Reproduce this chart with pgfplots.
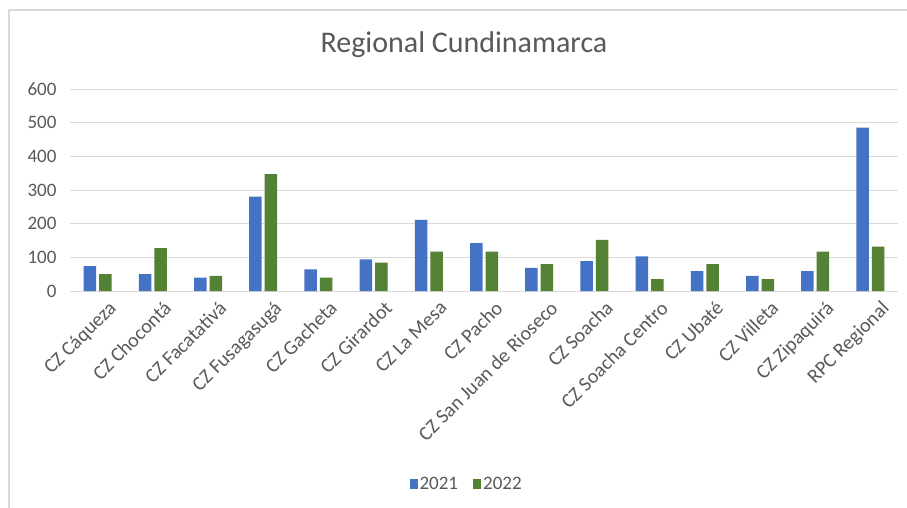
\documentclass[border=0pt]{standalone}
\usepackage{fontspec}
\setmainfont{Carlito}
\usepackage{pgfplots}
\pgfplotsset{compat=1.18}
\definecolor{cblue}{HTML}{4472C4}
\definecolor{cgreen}{HTML}{548235}
\definecolor{ctext}{HTML}{595959}
\definecolor{cgrid}{HTML}{D9D9D9}
\begin{document}
\begin{tikzpicture}[x=1pt,y=1pt]
\useasboundingbox (0,0) rectangle (907,-508);
\fill[white] (0,0) rectangle (907,-508);
\draw[cgrid, line width=1.2pt] (9,-508) -- (9,-10) -- (907,-10);
\node[text=ctext, font=\fontsize{30}{36}\selectfont] at (464,-45) {Regional Cundinamarca};
\begin{axis}[
  at={(70pt,-291pt)}, anchor=south west,
  scale only axis, width=828pt, height=202pt,
  ybar=3pt, bar width=12.5pt,
  xmin=-0.5, xmax=14.5, ymin=0, ymax=600,
  xtick={0,...,14},
  xticklabels={CZ Cáqueza, CZ Chocontá, CZ Facatativá, CZ Fusagasugá, CZ Gacheta, CZ Girardot, CZ La Mesa, CZ Pacho, CZ San Juan de Rioseco, CZ Soacha, CZ Soacha Centro, CZ Ubaté, CZ Villeta, CZ Zipaquirá, RPC Regional},
  ytick={0,100,...,600},
  ymajorgrids, grid style={cgrid, line width=0.8pt},
  axis line style={draw=none},
  major tick length=0pt,
  tick label style={text=ctext, font=\fontsize{19}{23}\selectfont},
  /pgf/number format/assume math mode=true,
  yticklabel style={anchor=east, xshift=-10pt},
  xticklabel style={rotate=45, anchor=north east, inner sep=1pt, xshift=2pt, yshift=-12pt, font=\fontsize{20}{24}\selectfont},
  legend style={at={(0.479,-0.955)}, anchor=center, draw=none, fill=none, legend columns=2,
    font=\fontsize{19}{23}\selectfont, text=ctext,
    /tikz/every even column/.append style={column sep=13pt}},
  legend image code/.code={\fill[#1] (0pt,-5pt) rectangle (8pt,5pt);},
]
\addplot[fill=cblue, draw=none] coordinates {(0,74) (1,50) (2,40) (3,280) (4,64) (5,94) (6,211) (7,142) (8,69) (9,89) (10,103) (11,59) (12,45) (13,59) (14,485)};
\addplot[fill=cgreen, draw=none] coordinates {(0,50) (1,127) (2,45) (3,347) (4,40) (5,84) (6,117) (7,117) (8,80) (9,152) (10,35) (11,80) (12,35) (13,117) (14,132)};
\legend{2021,2022}
\end{axis}
\end{tikzpicture}
\end{document}
